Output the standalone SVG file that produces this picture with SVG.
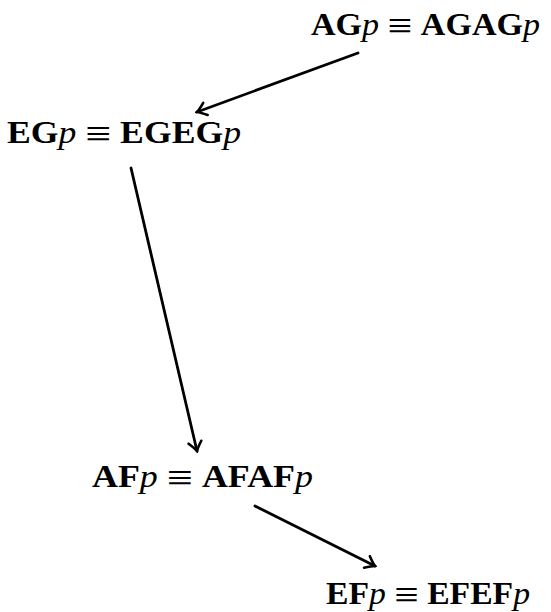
<svg xmlns="http://www.w3.org/2000/svg" width="551" height="612" viewBox="0 0 551 612">
<style>
text{font-size:31px;fill:#000}
.b{font-weight:bold}
.i{font-style:italic;font-weight:normal}
.e{font-size:40px;font-weight:normal}
.c{fill:none;stroke:#000;stroke-width:2.8;stroke-linecap:round}
</style>
<defs>
<marker id="ah" viewBox="-12 -8 14 16" refX="0" refY="0" markerWidth="14" markerHeight="16" markerUnits="userSpaceOnUse" orient="auto">
<path d="M-9,-6.5 Q-3,-1.5 0,0 Q-3,1.5 -9,6.5" fill="none" stroke="#000" stroke-width="2.6" stroke-linecap="round"/>
</marker>
</defs>
<g id="connectors">
<line class="c" x1="358" y1="53" x2="197" y2="112" marker-end="url(#ah)"/>
<line class="c" x1="131" y1="168" x2="197" y2="451" marker-end="url(#ah)"/>
<line class="c" x1="255" y1="506" x2="375" y2="566" marker-end="url(#ah)"/>
</g>
<g id="AG">
<text x="311" y="35" font-family="Liberation Serif, serif" textLength="229" lengthAdjust="spacingAndGlyphs"><tspan class="b">AG</tspan><tspan class="i">p</tspan> <tspan class="e" dy="4">≡</tspan><tspan dy="-4"> </tspan><tspan class="b">AGAG</tspan><tspan class="i">p</tspan></text>
</g>
<g id="EG">
<text x="7" y="143" font-family="Liberation Serif, serif" textLength="234" lengthAdjust="spacingAndGlyphs"><tspan class="b">EG</tspan><tspan class="i">p</tspan> <tspan class="e" dy="4">≡</tspan><tspan dy="-4"> </tspan><tspan class="b">EGEG</tspan><tspan class="i">p</tspan></text>
</g>
<g id="AF">
<text x="92" y="487" font-family="Liberation Serif, serif" textLength="221" lengthAdjust="spacingAndGlyphs"><tspan class="b">AF</tspan><tspan class="i">p</tspan> <tspan class="e" dy="4">≡</tspan><tspan dy="-4"> </tspan><tspan class="b">AFAF</tspan><tspan class="i">p</tspan></text>
</g>
<g id="EF">
<text x="326" y="604" font-family="Liberation Serif, serif" textLength="204" lengthAdjust="spacingAndGlyphs"><tspan class="b">EF</tspan><tspan class="i">p</tspan> <tspan class="e" dy="4">≡</tspan><tspan dy="-4"> </tspan><tspan class="b">EFEF</tspan><tspan class="i">p</tspan></text>
</g>
</svg>
